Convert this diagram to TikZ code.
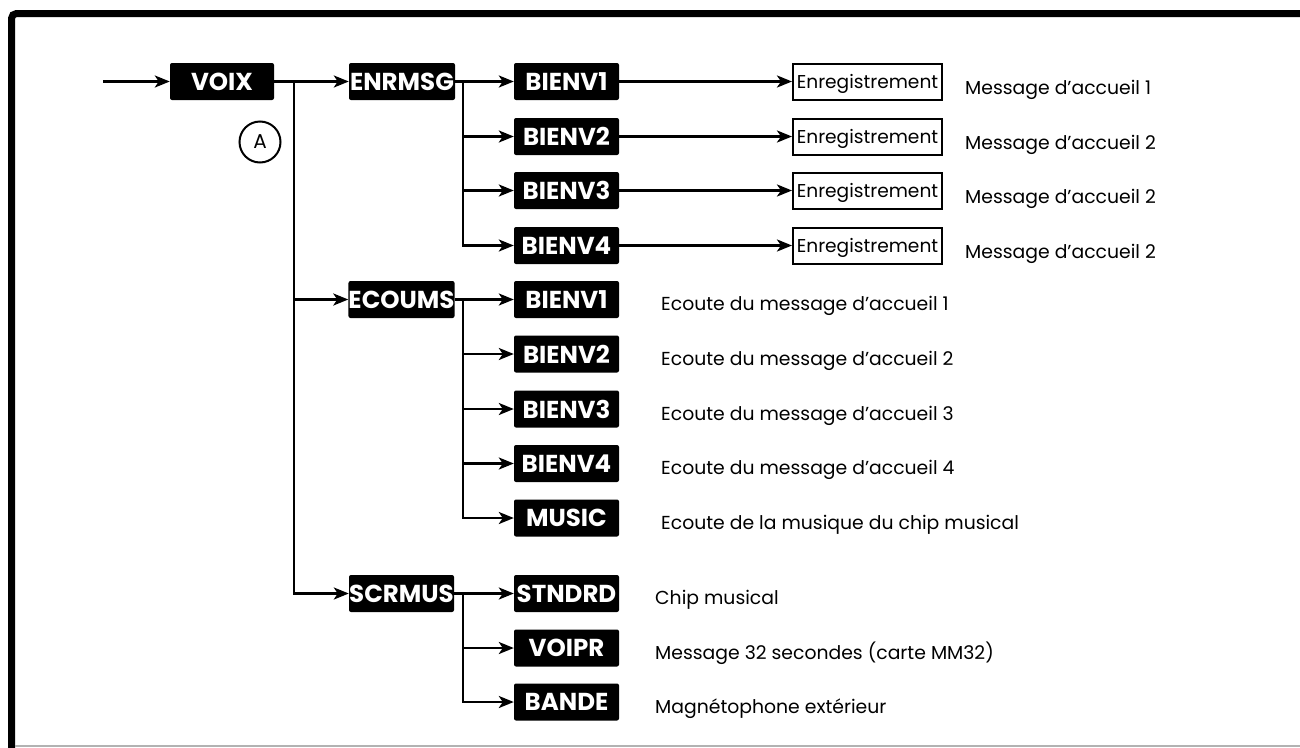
\documentclass[tikz,border=0pt]{standalone}
\usepackage{fontspec}
\setmainfont{Poppins}
\usetikzlibrary{arrows.meta}
\begin{document}
\begin{tikzpicture}[x=1pt,y=-1pt,
  conn/.style={line width=2.6pt},
  arr/.style={conn,-{Stealth[length=15pt,width=12pt,inset=4pt]}},
  keybox/.style={fill=black,text=white,rounded corners=2pt,inner sep=0pt,
    minimum height=37pt,minimum width=105pt,font=\bfseries\fontsize{24.5}{24.5}\selectfont},
  recbox/.style={draw,line width=2pt,inner sep=0pt,minimum width=149pt,
    minimum height=36pt,text height=16pt,text depth=2pt,font=\fontsize{18.6}{18.6}\selectfont},
  note/.style={anchor=base west,inner sep=0pt,font=\fontsize{18.8}{18.8}\selectfont}
]
\useasboundingbox (0,0) rectangle (1300,747);
% outer frame
\draw[line width=7pt,rounded corners=5pt] (11.5,760) -- (11.5,13.5) -- (1310,13.5);
\draw[black!30,line width=1.5pt] (15,746) -- (1300,746);

% main menu
\coordinate (in) at (103,81.5);
\node[keybox,minimum width=104pt] (voix) at (222,81.5) {VOIX};
\node[circle,draw,line width=2pt,minimum size=41pt,inner sep=0pt,
  font=\fontsize{20}{20}\selectfont] (a) at (260,142) {A};
\node[keybox,minimum width=106pt] (enr) at (402,81.5) {ENRMSG};
\node[keybox] (ecou) at (401.5,299.5) {ECOUMS};
\node[keybox] (scr) at (401.5,593.5) {SCRMUS};

\coordinate (t1) at (294,81.5);
\draw[arr] (in) -- (voix);
\draw[arr] (voix) -- (enr);
\draw[arr] (t1) |- (scr);
\draw[arr] (t1 |- ecou) -- (ecou);

% ENRMSG branch
\foreach \i/\y/\n in {1/81.5/1,2/136.5/2,3/190.5/2,4/245.5/2}{
  \node[keybox] (e\i) at (566.5,\y) {BIENV\i};
  \node[recbox] (r\i) at (867.5,\y) {Enregistrement};
  \node[note] (m\i) at (965,\y+13) {Message d’accueil \n};
  \draw[arr] (e\i) -- (r\i);
}
\coordinate (u1) at (463,81.5);
\draw[arr] (enr) -- (e1);
\draw[arr] (u1) |- (e4);
\draw[arr] (u1 |- e2) -- (e2);
\draw[arr] (u1 |- e3) -- (e3);

% ECOUMS branch
\foreach \i/\y in {1/299.5,2/354,3/409,4/463.5}{
  \node[keybox] (c\i) at (566.5,\y) {BIENV\i};
  \node[note] (ct\i) at (661,\y+11) {Ecoute du message d’accueil \i};
}
\node[keybox] (c5) at (566.5,518) {MUSIC};
\node[note] (ct5) at (661,529) {Ecoute de la musique du chip musical};
\coordinate (u2) at (463,299.5);
\draw[arr] (ecou) -- (c1);
\draw[arr] (u2) |- (c5);
\foreach \i in {2,3,4}{ \draw[arr] (u2 |- c\i) -- (c\i); }

% SCRMUS branch
\node[keybox] (s1) at (566.5,593.5) {STNDRD};
\node[keybox] (s2) at (566.5,648) {VOIPR};
\node[keybox] (s3) at (566.5,702) {BANDE};
\node[note] (st1) at (655,604.5) {Chip musical};
\node[note] (st2) at (655,659) {Message 32 secondes (carte MM32)};
\node[note] (st3) at (655,713) {Magnétophone extérieur};
\coordinate (u3) at (463,593.5);
\draw[arr] (scr) -- (s1);
\draw[arr] (u3) |- (s3);
\draw[arr] (u3 |- s2) -- (s2);
\end{tikzpicture}
\end{document}
